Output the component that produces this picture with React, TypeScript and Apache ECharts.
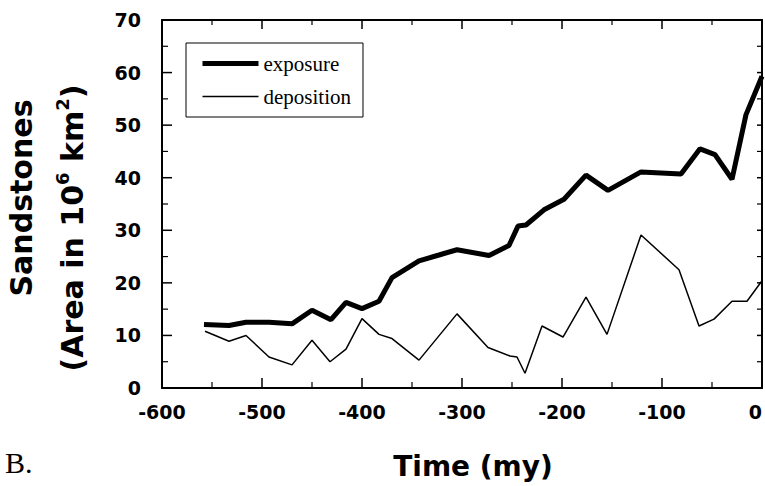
import React, { useEffect, useRef } from "react";
import * as echarts from "echarts";

const exposureTime = [-558, -533, -516, -493, -470, -450, -431, -416, -400, -383, -370, -343, -323, -305, -273, -253, -244, -236, -218, -198, -176, -154, -121, -81, -62, -47, -30, -16, 0];
const exposureArea = [12.1, 11.9, 12.5, 12.5, 12.2, 14.8, 13.0, 16.3, 15.1, 16.5, 21.0, 24.2, 25.3, 26.3, 25.2, 27.1, 30.8, 31.0, 33.9, 35.9, 40.5, 37.6, 41.1, 40.7, 45.5, 44.4, 39.7, 52.0, 59.3];

const depositionTime = [-557, -533, -516, -493, -470, -450, -432, -416, -400, -383, -370, -343, -305, -274, -252, -245, -237, -220, -199, -176, -155, -121, -83, -63, -48, -30, -15, 0];
const depositionArea = [10.8, 8.9, 10.0, 5.9, 4.4, 9.1, 5.0, 7.4, 13.2, 10.2, 9.4, 5.3, 14.1, 7.7, 6.1, 5.9, 2.8, 11.8, 9.7, 17.3, 10.2, 29.1, 22.5, 11.8, 13.1, 16.5, 16.5, 20.4];

// Tick positions of the frame (inward ticks on all four sides)
const xMajorTicks = [-600, -500, -400, -300, -200, -100, 0];
const xMinorTicks = [-550, -450, -350, -250, -150, -50];
const yMajorTicks = [0, 10, 20, 30, 40, 50, 60, 70];
const yMinorTicks = [5, 15, 25, 35, 45, 55, 65];

const seriesNames = ["exposure", "deposition"];
const xTitle = "Time (my)";
const yTitleLine1 = "Sandstones";
const panelLabel = "B.";

const X_MIN = -600, X_MAX = 0, Y_MIN = 0, Y_MAX = 70;
const SANS = "DejaVu Sans";

export default function App() {
  const ref = useRef<HTMLDivElement>(null);
  useEffect(() => {
    if (!ref.current) return;
    const chart = echarts.init(ref.current, undefined, { renderer: "svg" });
    const lineBase = { show: true, onZero: false, lineStyle: { color: "#000", width: 2 } };
    const labelStyle = { color: "#000", fontFamily: SANS, fontWeight: "bold" as const, fontSize: 19 };
    const hiddenSymbol = { color: "rgba(0,0,0,0)", opacity: 0, borderWidth: 0 };

    // tick data: [xValue, yValue, axis (0 = x, 1 = y), major (1) / minor (0)]
    const tickData: number[][] = [
      ...xMajorTicks.map((v) => [v, Y_MIN, 0, 1]),
      ...xMinorTicks.map((v) => [v, Y_MIN, 0, 0]),
      ...yMajorTicks.map((v) => [X_MIN, v, 1, 1]),
      ...yMinorTicks.map((v) => [X_MIN, v, 1, 0]),
    ];

    chart.setOption({
      animation: false,
      backgroundColor: "#fff",
      grid: { left: 162, right: 3, top: 20, bottom: 98, outerBoundsMode: "none", containLabel: false },
      xAxis: [
        { type: "value", position: "bottom", min: X_MIN, max: X_MAX, interval: 100, axisLine: lineBase, axisTick: { show: false }, splitLine: { show: false }, axisLabel: { ...labelStyle, margin: 14, alignMaxLabel: "right" } },
        { type: "value", position: "top", min: X_MIN, max: X_MAX, interval: 100, axisLine: lineBase, axisTick: { show: false }, splitLine: { show: false }, axisLabel: { show: false } },
      ],
      yAxis: [
        { type: "value", position: "left", min: Y_MIN, max: Y_MAX, interval: 10, axisLine: lineBase, axisTick: { show: false }, splitLine: { show: false }, axisLabel: { ...labelStyle, margin: 21 } },
        { type: "value", position: "right", min: Y_MIN, max: Y_MAX, interval: 10, axisLine: lineBase, axisTick: { show: false }, splitLine: { show: false }, axisLabel: { show: false } },
      ],
      legend: {
        left: 186,
        top: 43,
        orient: "vertical",
        backgroundColor: "#fff",
        borderColor: "#000",
        borderWidth: 1,
        padding: [10, 12, 10, 14],
        itemWidth: 56,
        itemHeight: 20,
        itemGap: 12,
        textStyle: { fontFamily: "Liberation Serif", fontSize: 21, color: "#000" },
        data: [
          { name: seriesNames[0], lineStyle: { width: 5, color: "#000" }, itemStyle: hiddenSymbol },
          { name: seriesNames[1], lineStyle: { width: 1.5, color: "#000" }, itemStyle: hiddenSymbol },
        ],
      },
      series: [
        {
          name: "frameTicks",
          type: "custom",
          silent: true,
          clip: false,
          z: 5,
          data: tickData,
          renderItem: (params: any, api: any) => {
            const axis = api.value(2);
            const major = api.value(3) === 1;
            const children: any[] = [];
            const st = { stroke: "#000", lineWidth: major ? 1.5 : 1.2 };
            if (axis === 0) {
              const v = api.value(0);
              const b = api.coord([v, Y_MIN]);
              const t = api.coord([v, Y_MAX]);
              const lb = major ? 10 : 6;
              const lt = major ? 9 : 5;
              children.push({ type: "line", shape: { x1: b[0], y1: b[1], x2: b[0], y2: b[1] - lb }, style: st });
              children.push({ type: "line", shape: { x1: t[0], y1: t[1], x2: t[0], y2: t[1] + lt }, style: st });
            } else {
              const v = api.value(1);
              const l = api.coord([X_MIN, v]);
              const r = api.coord([X_MAX, v]);
              const ll = major ? 10 : 6;
              const lr = 5;
              children.push({ type: "line", shape: { x1: l[0], y1: l[1], x2: l[0] + ll, y2: l[1] }, style: st });
              children.push({ type: "line", shape: { x1: r[0], y1: r[1], x2: r[0] - lr, y2: r[1] }, style: st });
            }
            return { type: "group", children };
          },
        },
        {
          name: seriesNames[0],
          type: "line",
          symbol: "none",
          data: exposureTime.map((t, i) => [t, exposureArea[i]]),
          lineStyle: { color: "#000", width: 5 },
          itemStyle: { color: "#000" },
        },
        {
          name: seriesNames[1],
          type: "line",
          symbol: "none",
          data: depositionTime.map((t, i) => [t, depositionArea[i]]),
          lineStyle: { color: "#000", width: 1.5 },
          itemStyle: { color: "#000" },
        },
      ],
      graphic: [
        {
          type: "text",
          x: 473,
          y: 466,
          style: { text: xTitle, fontFamily: SANS, fontWeight: "bold", fontSize: 28, fill: "#000", align: "center", verticalAlign: "middle" },
        },
        {
          type: "text",
          x: 21,
          y: 198,
          rotation: Math.PI / 2,
          style: { text: yTitleLine1, fontFamily: SANS, fontWeight: "bold", fontSize: 30, fill: "#000", align: "center", verticalAlign: "middle" },
        },
        {
          type: "text",
          x: 70,
          y: 228,
          rotation: Math.PI / 2,
          style: {
            text: "{b|(Area in 10}{sup|6}{b| km}{sup|2}{b|)}",
            fill: "#000",
            align: "center",
            verticalAlign: "middle",
            rich: {
              b: { fontFamily: SANS, fontWeight: "bold", fontSize: 30, lineHeight: 34, verticalAlign: "bottom", fill: "#000" },
              sup: { fontFamily: SANS, fontWeight: "bold", fontSize: 18, lineHeight: 34, verticalAlign: "top", fill: "#000" },
            },
          },
        },
        {
          type: "text",
          x: 5,
          y: 462,
          style: { text: panelLabel, fontFamily: "Liberation Serif", fontSize: 30, fill: "#000", align: "left", verticalAlign: "middle" },
        },
      ],
    });
    return () => chart.dispose();
  }, []);
  return <div ref={ref} style={{ width: 765, height: 486, position: "absolute", left: 0, top: 0 }} />;
}
